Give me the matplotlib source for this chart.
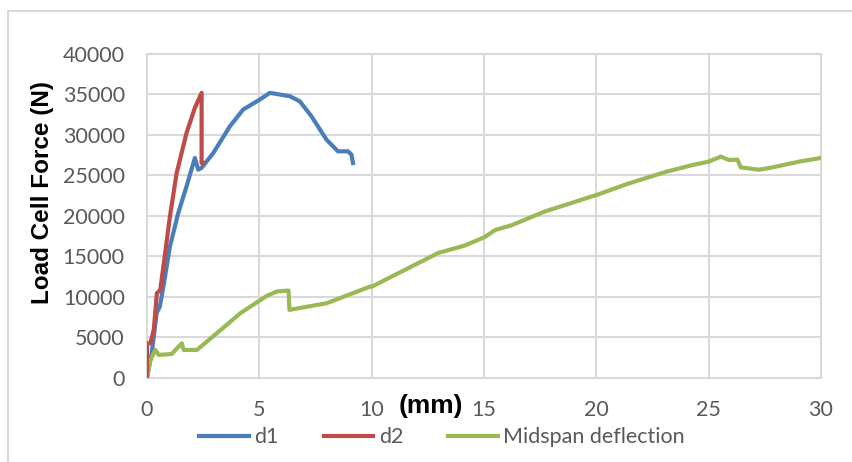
import numpy as np
import matplotlib
import matplotlib.pyplot as plt
from matplotlib.lines import Line2D

matplotlib.use('agg')

# d1 (blue)
d1_x = [0.0, 0.21, 0.43, 0.57, 0.73, 1.02, 1.39, 1.76, 2.13, 2.28, 2.43, 2.95, 3.32, 3.69,
        4.28, 5.02, 5.47, 6.36, 6.8, 7.32, 7.99, 8.5, 8.95, 9.1, 9.17]
d1_y = [160, 3050, 8000, 8800, 11270, 16200, 20330, 23620, 27120, 25680, 25900, 27740, 29380, 31030,
        33090, 34320, 35150, 34730, 34110, 32260, 29380, 27940, 27940, 27530, 26500]

# d2 (red)
d2_x = [0.0, 0.0, 0.15, 0.3, 0.44, 0.59, 0.73, 1.02, 1.32, 1.76, 2.13, 2.43, 2.43, 2.5]
d2_y = [160, 4280, 4280, 5930, 10450, 10860, 13740, 19910, 25270, 30210, 33300, 35150, 26500, 26500]

# Midspan deflection (green)
mid_x = [0.0, 0.15, 0.37, 0.52, 1.1, 1.55, 1.63, 2.22, 3.11, 4.15, 5.33, 5.78, 6.3, 6.34,
         8.0, 9.93, 10.0, 11.48, 12.97, 14.15, 15.04, 15.5, 16.23, 17.72, 18.9, 20.09,
         21.32, 23.1, 24.28, 25.0, 25.54, 25.91, 26.28, 26.43, 27.24, 27.84, 29.02, 29.99]
mid_y = [0, 2220, 3460, 2840, 2960, 4280, 3460, 3460, 5520, 7980, 10120, 10660, 10780, 8400,
         9220, 11270, 11250, 13330, 15420, 16330, 17380, 18250, 18830, 20540, 21580, 22640,
         23870, 25420, 26250, 26670, 27290, 26870, 26920, 25960, 25670, 25960, 26670, 27120]

W, H = 852, 462
fig = plt.figure(figsize=(W / 100, H / 100), dpi=100)
ax = fig.add_axes([147 / W, (H - 378) / H, (821 - 147) / W, (378 - 53.5) / H])

tick_font = 'Lato'
ax.plot(d1_x, d1_y, color='#4a7ebb', lw=3, solid_joinstyle='round', label='d1', zorder=3)
ax.plot(d2_x, d2_y, color='#be4b48', lw=3, solid_joinstyle='round', label='d2', zorder=4)
ax.plot(mid_x, mid_y, color='#98b954', lw=3, solid_joinstyle='round', label='Midspan deflection', zorder=3)

ax.set_xlim(0, 30)
ax.set_ylim(0, 40000)
ax.set_xticks(np.arange(0, 31, 5))
ax.set_yticks(np.arange(0, 40001, 5000))
ax.grid(color='#d9d9d9', lw=1.5)
ax.set_axisbelow(True)
for s in ax.spines.values():
    s.set_color('#d9d9d9')
    s.set_linewidth(1.5)
ax.tick_params(length=0, labelsize=15.5, labelcolor='#595959')
ax.tick_params(axis='y', pad=16)
ax.tick_params(axis='x', pad=16)
for lab in ax.get_xticklabels() + ax.get_yticklabels():
    lab.set_family(tick_font)

fig.text(43 / W, 1 - 192 / H, 'Load Cell Force (N)', rotation=90, ha='center', va='center',
         fontsize=17.5, fontweight='bold', family='Liberation Sans')
fig.text(431 / W, 1 - 406 / H, '(mm)', ha='center', va='center', fontsize=19,
         fontweight='bold', family='Liberation Sans')

leg = ax.legend(loc='center', bbox_to_anchor=(0.438, -0.182), ncol=3, frameon=False,
                prop={'family': tick_font, 'size': 15.5}, handlelength=2.3,
                columnspacing=2.1, handletextpad=0.25)
for t in leg.get_texts():
    t.set_color('#595959')

# outer chart border
fig.add_artist(Line2D([7.5 / W, 1], [1 - 11 / H, 1 - 11 / H], color='#d9d9d9', lw=1.5))
fig.add_artist(Line2D([7.5 / W, 7.5 / W], [0, 1 - 11 / H], color='#d9d9d9', lw=1.5))

fig.savefig('out.png', dpi=100)
